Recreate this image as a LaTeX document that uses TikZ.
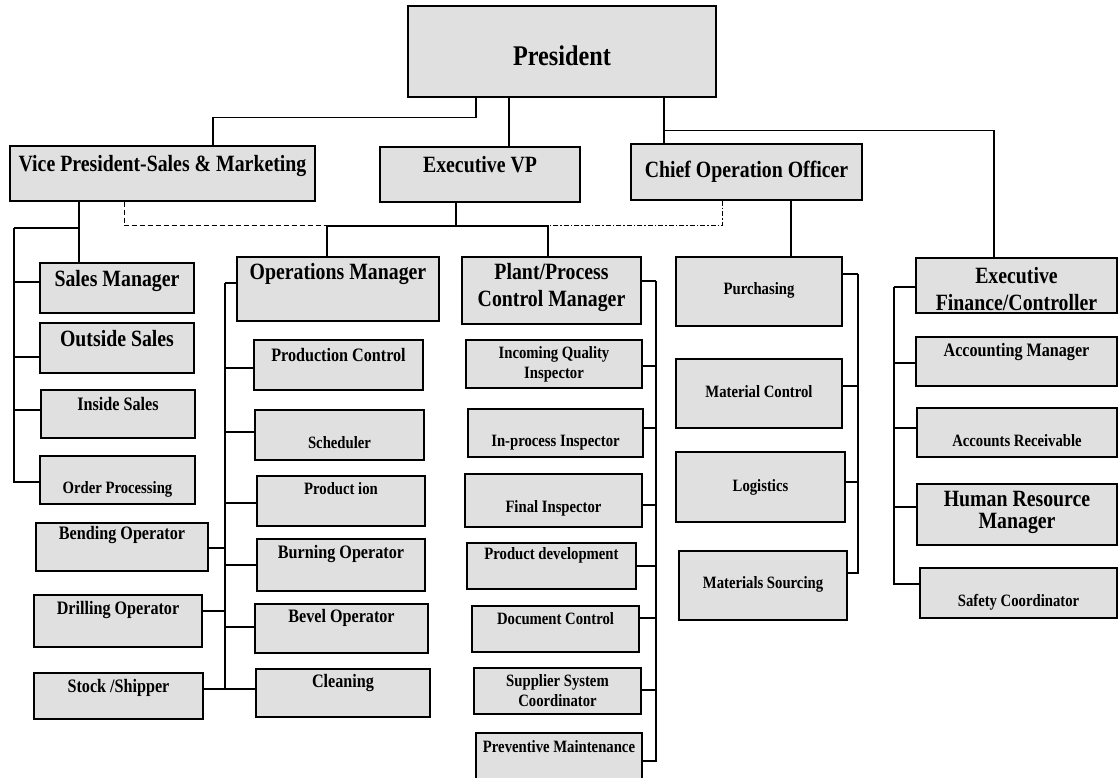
\documentclass[tikz,border=0pt]{standalone}
\usepackage{fontspec}
\setmainfont{Liberation Serif}[FakeStretch=0.85]
\tikzset{
    box/.style = {draw, line width = 1.4pt, fill = black!12, inner sep = 0pt},
    link/.style = {line width = 1.3pt},
    prestext/.style = {font = \bfseries\fontsize{28.5}{33}\selectfont},
    bigtext/.style = {font = \bfseries\fontsize{23.3}{27}\selectfont, align = center},
    midtext/.style = {font = \bfseries\fontsize{19}{22}\selectfont, align = center},
    smalltext/.style = {font = \bfseries\fontsize{17.3}{20}\selectfont, align = center}
}
\begin{document}
\begin{tikzpicture}[x = 1pt, y = -1pt]
        \useasboundingbox (0, 0) rectangle (1119, 778);
        \fill[white] (0, 0) rectangle (1119, 778);
        \clip (0, 0) rectangle (1119, 778);
        % top level
        \node[box, minimum width = 308, minimum height = 91, label = {[prestext, yshift = -4.5pt]center:President}] (pres) at (562, 51.5) {};
        \node[box, minimum width = 305, minimum height = 55, label = {[bigtext, yshift = 7.5pt]center:Vice President-Sales \& Marketing}] (vpsales) at (162.5, 173.5) {};
        \node[box, minimum width = 200, minimum height = 55, label = {[bigtext, yshift = 10pt]center:Executive VP}] (execvp) at (480, 174.5) {};
        \node[box, minimum width = 231, minimum height = 56, label = {[bigtext]center:Chief Operation Officer}] (coo) at (746.5, 172) {};
        % sales column
        \node[box, minimum width = 154, minimum height = 50, label = {[bigtext, yshift = 7pt]center:Sales Manager}] (salesmgr) at (117, 288) {};
        \node[box, minimum width = 154, minimum height = 50, label = {[bigtext, yshift = 9.5pt]center:Outside Sales}] (outside) at (117, 348) {};
        \node[box, minimum width = 154, minimum height = 48, label = {[midtext, yshift = 10pt]center:Inside Sales}] (inside) at (118, 414) {};
        \node[box, minimum width = 155, minimum height = 48, label = {[smalltext, yshift = -9.5pt]center:Order Processing}] (order) at (117.5, 480) {};
        \node[box, minimum width = 172, minimum height = 48, label = {[midtext, yshift = 11.5pt]center:Bending Operator}] (bending) at (122, 547) {};
        \node[box, minimum width = 168, minimum height = 52, label = {[midtext, yshift = 11pt]center:Drilling Operator}] (drilling) at (118, 621) {};
        \node[box, minimum width = 169, minimum height = 46, label = {[midtext, yshift = 8.5pt]center:Stock /Shipper}] (stock) at (118.5, 696) {};
        % operations column
        \node[box, minimum width = 202, minimum height = 64, label = {[bigtext, yshift = 15.5pt]center:Operations Manager}] (opsmgr) at (338, 289) {};
        \node[box, minimum width = 169, minimum height = 50, label = {[midtext, yshift = 10pt]center:Production Control}] (prodctl) at (338.5, 365) {};
        \node[box, minimum width = 169, minimum height = 50, label = {[smalltext, yshift = -8pt]center:Scheduler}] (sched) at (339.5, 435) {};
        \node[box, minimum width = 168, minimum height = 50, label = {[smalltext, yshift = 12.5pt]center:Product ion}] (production) at (341, 501) {};
        \node[box, minimum width = 168, minimum height = 52, label = {[midtext, yshift = 11pt]center:Burning Operator}] (burning) at (341, 565) {};
        \node[box, minimum width = 173, minimum height = 49, label = {[midtext, yshift = 10.5pt]center:Bevel Operator}] (bevel) at (341.5, 628.5) {};
        \node[box, minimum width = 174, minimum height = 48, label = {[midtext, yshift = 10pt]center:Cleaning}] (cleaning) at (343, 693) {};
        % plant column
        \node[box, minimum width = 179, minimum height = 67, label = {[bigtext, yshift = 3pt]center:{Plant/Process\\Control Manager}}] (plant) at (551.5, 290.5) {};
        \node[box, minimum width = 176, minimum height = 48, label = {[smalltext]center:{Incoming Quality\\Inspector}}] (incoming) at (554, 364) {};
        \node[box, minimum width = 175, minimum height = 48, label = {[smalltext, yshift = -10pt]center:In-process Inspector}] (inproc) at (555.5, 433) {};
        \node[box, minimum width = 177, minimum height = 53, label = {[smalltext, yshift = -8pt]center:Final Inspector}] (final) at (553.5, 500.5) {};
        \node[box, minimum width = 169, minimum height = 46, label = {[smalltext, yshift = 11pt]center:Product development}] (proddev) at (551.5, 566) {};
        \node[box, minimum width = 167, minimum height = 46, label = {[smalltext, yshift = 10.5pt]center:Document Control}] (doc) at (555.5, 629) {};
        \node[box, minimum width = 167, minimum height = 46, label = {[smalltext]center:{Supplier System\\Coordinator}}] (supplier) at (557.5, 691) {};
        \node[box, minimum width = 166, minimum height = 57, label = {[smalltext, yshift = 15pt]center:Preventive Maintenance}] (preventive) at (559, 761.5) {};
        % purchasing column
        \node[box, minimum width = 166, minimum height = 69, label = {[smalltext, yshift = 1.5pt]center:Purchasing}] (purch) at (759, 291.5) {};
        \node[box, minimum width = 166, minimum height = 69, label = {[smalltext, yshift = 2pt]center:Material Control}] (matctl) at (759, 393.5) {};
        \node[box, minimum width = 169, minimum height = 70, label = {[smalltext]center:Logistics}] (logis) at (760.5, 487) {};
        \node[box, minimum width = 168, minimum height = 69, label = {[smalltext, yshift = 1.5pt]center:Materials Sourcing}] (matsrc) at (763, 585.5) {};
        % finance column
        \node[box, minimum width = 201, minimum height = 55, label = {[bigtext, yshift = -3.5pt]center:{Executive\\Finance/Controller}}] (execfin) at (1016.5, 285.5) {};
        \node[box, minimum width = 201, minimum height = 49, label = {[midtext, yshift = 9pt]center:Accounting Manager}] (acctmgr) at (1016.5, 361.5) {};
        \node[box, minimum width = 200, minimum height = 49, label = {[smalltext, yshift = -8pt]center:Accounts Receivable}] (acctrec) at (1017, 432.5) {};
        \node[box, minimum width = 200, minimum height = 61, label = {[bigtext, yshift = 2pt, font = \bfseries\fontsize{23.3}{22}\selectfont]center:{Human Resource\\Manager}}] (hr) at (1017, 514.5) {};
        \node[box, minimum width = 197, minimum height = 50, label = {[smalltext, yshift = -9pt]center:Safety Coordinator}] (safety) at (1018.5, 593) {};
        % bus points
        \coordinate (sbus) at (14, 228);
        \coordinate (obus) at (225, 283);
        \coordinate (pbus) at (656, 281);
        \coordinate (cbus) at (858, 274);
        \coordinate (fbus) at (894, 287);
        \coordinate (evbus) at (456, 226);
        \coordinate (opsin) at ([xshift = -11pt]opsmgr.north);
        \coordinate (plantin) at ([xshift = -3.5pt]plant.north);
        % president links
        \draw[link] ([xshift = -86pt]pres.south) -- ++(0, 20) -| ([xshift = 50.5pt]vpsales.north);
        \draw[link] ([xshift = -53pt]pres.south) -- ([xshift = 29pt]execvp.north);
        \draw[link] ([xshift = 102pt]pres.south) -- ([xshift = -82.5pt]coo.north);
        \draw[link] ([xshift = 102pt]pres.south) ++(0, 33) -| ([xshift = -22.5pt]execfin.north);
        % vice president links
        \draw[link] ([xshift = -83.5pt]vpsales.south) -- ([xshift = -38pt]salesmgr.north);
        \draw[link] ([xshift = -83.5pt]vpsales.south) |- (sbus);
        \draw[line width = 1pt, dash pattern = on 5pt off 3pt] ([xshift = -38.5pt]vpsales.south) |- (opsin |- evbus);
        % executive vp links
        \draw[link] ([xshift = -24pt]execvp.south) -- (evbus);
        \draw[link] (evbus) -| (opsin);
        \draw[link] (evbus) -| (plantin);
        % chief operation officer links
        \draw[line width = 1pt, dash pattern = on 5pt off 2pt on 1.5pt off 2pt] ([xshift = -24.5pt]coo.south) |- (plantin |- evbus);
        \draw[link] ([xshift = 44.5pt]coo.south) -- ([xshift = 32pt]purch.north);
        % branches
        \foreach \n/\d in {salesmgr/6, outside/-9, inside/4, order/-2}{
            \draw[link] ([yshift = \d pt]\n.west) -| (sbus);
        }
        \foreach \n/\d in {opsmgr/6, prodctl/-3, sched/3, production/-2, burning/0, bevel/1.5, cleaning/4}{
            \draw[link] ([yshift = \d pt]\n.west) -| (obus);
        }
        \foreach \n/\d in {bending/-1, drilling/10, stock/7}{
            \draw[link] ([yshift = \d pt]\n.east) -| (obus);
        }
        \foreach \n/\d in {plant/9.5, incoming/-2, inproc/5, final/-4.5, proddev/0, doc/11, supplier/1, preventive/0.5}{
            \draw[link] ([yshift = \d pt]\n.east) -| (pbus);
        }
        \foreach \n/\d in {purch/17.5, matctl/7.5, logis/5, matsrc/12.5}{
            \draw[link] ([yshift = \d pt]\n.east) -| (cbus);
        }
        \foreach \n/\d in {execfin/-1.5, acctmgr/-1.5, acctrec/4.5, hr/7.5, safety/9}{
            \draw[link] ([yshift = \d pt]\n.west) -| (fbus);
        }
    \end{tikzpicture}
\end{document}
